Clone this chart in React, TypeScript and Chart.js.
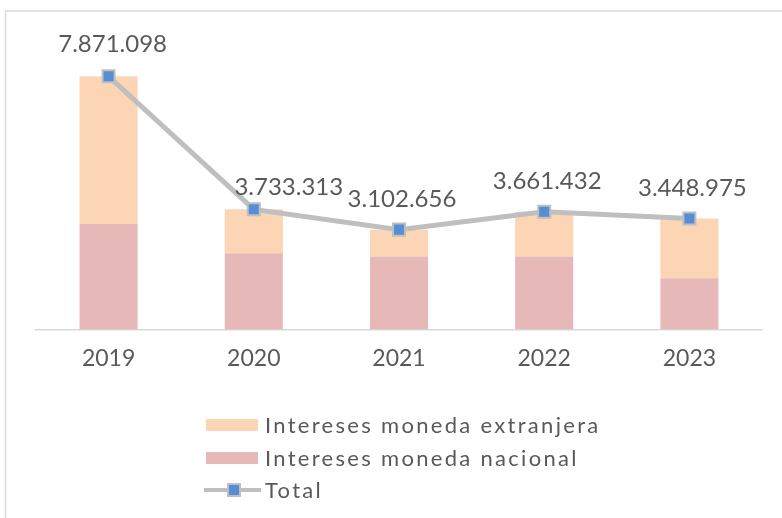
import React, { useEffect, useRef } from "react";
import { Chart, registerables } from "chart.js";

Chart.register(...registerables);

const categories = ["2019", "2020", "2021", "2022", "2023"];
const nacional = [3280000, 2370000, 2270000, 2270000, 1590000];
const extranjera = [4591098, 1363313, 832656, 1391432, 1858975];
const total = [7871098, 3733313, 3102656, 3661432, 3448975];
const totalLabels = ["7.871.098", "3.733.313", "3.102.656", "3.661.432", "3.448.975"];
const legendLabels = ["Intereses moneda extranjera", "Intereses moneda nacional", "Total"];

// label offsets relative to each point (styling)
const labelDx = [4, 35, 3, 3, 3];
const labelDy = [-32, -22, -30, -30, -30];

const FONT = "Lato, 'Open Sans', sans-serif";
const TEXT = "#595959";
const C_EXT = "#fcd5b5";
const C_NAC = "#e6b9b8";
const C_LINE = "#bfbfbf";
const C_MARK = "#558ed5";

const decor = {
  id: "decor",
  beforeDraw(chart: any) {
    const ctx = chart.ctx;
    ctx.save();
    ctx.fillStyle = "#ffffff";
    ctx.fillRect(0, 0, chart.width, chart.height);
    ctx.strokeStyle = "#d9d9d9";
    ctx.lineWidth = 1.5;
    ctx.beginPath();
    ctx.moveTo(5.5, 518);
    ctx.lineTo(5.5, 11);
    ctx.lineTo(782, 11);
    ctx.stroke();
    ctx.restore();
  },
  afterDatasetsDraw(chart: any) {
    const ctx = chart.ctx;
    const meta = chart.getDatasetMeta(2);
    ctx.save();
    ctx.fillStyle = TEXT;
    ctx.font = `24px ${FONT}`;
    ctx.textAlign = "center";
    ctx.textBaseline = "middle";
    meta.data.forEach((pt: any, i: number) => {
      ctx.fillText(totalLabels[i], pt.x + labelDx[i], pt.y + labelDy[i]);
    });
    ctx.restore();
  },
  afterDraw(chart: any) {
    const ctx = chart.ctx;
    ctx.save();
    const x0 = 206;
    const sw = 52;
    const textX = 265;
    const rows = [425, 458, 490];
    ctx.font = `22px ${FONT}`;
    (ctx as any).letterSpacing = "2.3px";
    ctx.textBaseline = "middle";
    ctx.textAlign = "left";
    // swatches
    ctx.fillStyle = C_EXT;
    ctx.fillRect(x0, rows[0] - 6, sw, 12);
    ctx.fillStyle = C_NAC;
    ctx.fillRect(x0, rows[1] - 6, sw, 12);
    // line sample
    ctx.strokeStyle = C_LINE;
    ctx.lineWidth = 4;
    ctx.beginPath();
    ctx.moveTo(204, rows[2]);
    ctx.lineTo(261, rows[2]);
    ctx.stroke();
    ctx.fillStyle = C_MARK;
    ctx.fillRect(228, rows[2] - 6, 12, 12);
    ctx.lineWidth = 2;
    ctx.strokeRect(228, rows[2] - 6, 12, 12);
    ctx.fillStyle = TEXT;
    legendLabels.forEach((t, i) => ctx.fillText(t, textX, rows[i] + 1));
    ctx.restore();
  },
};

export default function App() {
  const ref = useRef<HTMLCanvasElement | null>(null);
  useEffect(() => {
    if (!ref.current) return;
    const chart = new Chart(ref.current, {
      type: "bar",
      data: {
        labels: categories,
        datasets: [
          {
            type: "bar",
            label: legendLabels[1],
            data: nacional,
            backgroundColor: C_NAC,
            stack: "bars",
            order: 2,
            barPercentage: 0.4,
            categoryPercentage: 1,
          },
          {
            type: "bar",
            label: legendLabels[0],
            data: extranjera,
            backgroundColor: C_EXT,
            stack: "bars",
            order: 2,
            barPercentage: 0.4,
            categoryPercentage: 1,
          },
          {
            type: "line",
            label: legendLabels[2],
            data: total,
            borderColor: C_LINE,
            borderWidth: 5,
            pointStyle: "rect",
            pointRadius: 8.5,
            pointBackgroundColor: C_MARK,
            pointBorderColor: C_LINE,
            pointBorderWidth: 2,
            stack: "line",
            order: 0,
            tension: 0,
          } as any,
        ],
      },
      options: {
        responsive: false,
        animation: false,
        devicePixelRatio: 1,
        layout: { padding: { left: 36, right: 20, top: 40, bottom: 131 } },
        plugins: {
          legend: { display: false },
          tooltip: { enabled: false },
          title: { display: false },
        },
        scales: {
          x: {
            stacked: true,
            grid: { display: false, drawTicks: false },
            border: { display: true, color: "#d9d9d9", width: 1.5 },
            ticks: {
              color: TEXT,
              font: { family: FONT, size: 23 },
              padding: 15,
            },
          },
          y: {
            stacked: true,
            display: false,
            min: 0,
            max: 9000000,
          },
        },
      },
      plugins: [decor],
    });
    return () => chart.destroy();
  }, []);
  return (
    <div style={{ position: "absolute", left: 0, top: 0, width: 782, height: 518 }}>
      <canvas ref={ref} width={782} height={518} style={{ display: "block" }} />
    </div>
  );
}
